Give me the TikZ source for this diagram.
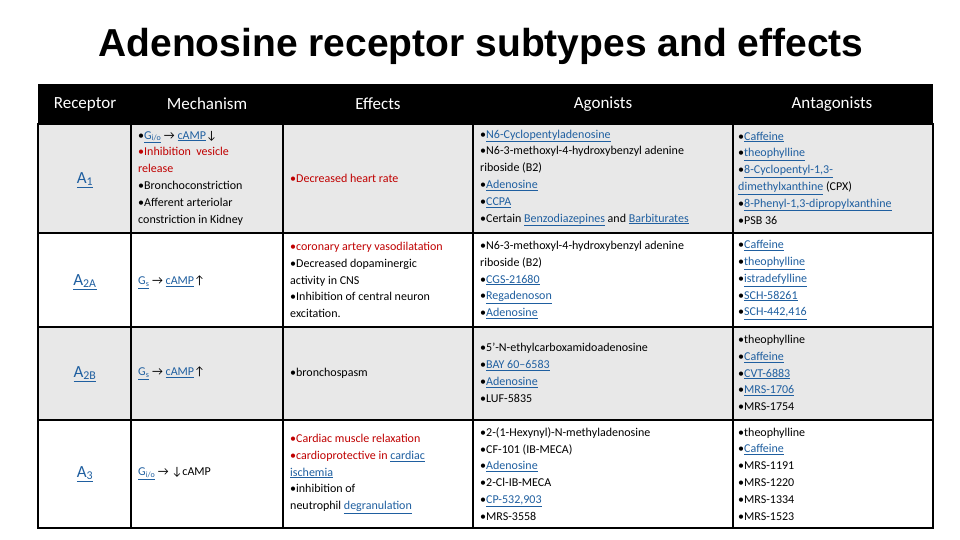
\documentclass[tikz,border=0pt]{standalone}
\usepackage{fontspec}
\setmainfont{Carlito}
\newfontfamily\titlefont{Liberation Sans}
\definecolor{lk}{HTML}{1F5FA0}
\definecolor{rd}{HTML}{C00000}
\definecolor{gr}{HTML}{E8E8E8}
\newcommand{\lnk}[1]{\textcolor{lk}{\underline{#1}}}
\newcommand{\rt}[1]{\textcolor{rd}{#1}}
\begin{document}
\begin{tikzpicture}[x=1pt,y=-1pt,
  cell/.style={anchor=west,align=left,inner sep=0pt,font=\fontsize{12}{16.8}\selectfont},
  rc/.style={anchor=center,inner sep=0pt,font=\fontsize{17}{20}\selectfont},
  hd/.style={font=\fontsize{17}{19}\selectfont,text=white}]
\useasboundingbox (0,0) rectangle (960,540);
\fill[white] (0,0) rectangle (960,540);
\node[font=\titlefont\bfseries\fontsize{39}{44}\selectfont] (title) at (481,46) {Adenosine receptor subtypes and effects};
\fill[black] (38,84) rectangle (933,124);
\fill[gr] (38,124) rectangle (933,233);
\fill[gr] (38,327) rectangle (933,420);
\node[hd] (h1) at (85,104) {Receptor};
\node[hd] (h2) at (207,104) {Mechanism};
\node[hd] (h3) at (378,104) {Effects};
\node[hd] (h4) at (603,104) {Agonists};
\node[hd] (h5) at (832,104) {Antagonists};
\draw[line width=2pt] (38,124) rectangle (933,528);
\foreach \y in {233,327,420} \draw[line width=1.5pt] (38,\y) -- (933,\y);
\foreach \x in {131,283,473,733} \draw[line width=1.5pt] (\x,124) -- (\x,528);
% row 1
\node[rc] (r1) at (85,180) {\lnk{A\textsubscript{1}}};
\node[cell] (m1) at (138,178) {•\lnk{G\textsubscript{i/o}} → \lnk{cAMP}↓\\\rt{•Inhibition\ \ vesicle}\\\rt{release}\\•Bronchoconstriction\\•Afferent arteriolar\\constriction in Kidney};
\node[cell] (e1) at (290,178) {\rt{•Decreased heart rate}};
\node[cell] (a1) at (480,178) {•\lnk{N6-Cyclopentyladenosine}\\•N6-3-methoxyl-4-hydroxybenzyl adenine\\riboside (B2)\\•\lnk{Adenosine}\\•\lnk{CCPA}\\•Certain \lnk{Benzodiazepines} and \lnk{Barbiturates}};
\node[cell] (n1) at (738,178) {•\lnk{Caffeine}\\•\lnk{theophylline}\\•\lnk{8-Cyclopentyl-1,3-}\\\lnk{dimethylxanthine} (CPX)\\•\lnk{8-Phenyl-1,3-dipropylxanthine}\\•PSB 36};
% row 2
\node[rc] (r2) at (85,282) {\lnk{A\textsubscript{2A}}};
\node[cell] (m2) at (138,282) {\lnk{G\textsubscript{s}} → \lnk{cAMP}↑};
\node[cell] (e2) at (290,280) {\rt{•coronary artery vasodilatation}\\•Decreased dopaminergic\\activity in CNS\\•Inhibition of central neuron\\excitation.};
\node[cell] (a2) at (480,280) {•N6-3-methoxyl-4-hydroxybenzyl adenine\\riboside (B2)\\•\lnk{CGS-21680}\\•\lnk{Regadenoson}\\•\lnk{Adenosine}};
\node[cell] (n2) at (738,280) {•\lnk{Caffeine}\\•\lnk{theophylline}\\•\lnk{istradefylline}\\•\lnk{SCH-58261}\\•\lnk{SCH-442,416}};
% row 3
\node[rc] (r3) at (85,374) {\lnk{A\textsubscript{2B}}};
\node[cell] (m3) at (138,373) {\lnk{G\textsubscript{s}} → \lnk{cAMP}↑};
\node[cell] (e3) at (290,373) {•bronchospasm};
\node[cell] (a3) at (480,373) {•5'-N-ethylcarboxamidoadenosine\\•\lnk{BAY 60–6583}\\•\lnk{Adenosine}\\•LUF-5835};
\node[cell] (n3) at (738,373) {•theophylline\\•\lnk{Caffeine}\\•\lnk{CVT-6883}\\•\lnk{MRS-1706}\\•MRS-1754};
% row 4
\node[rc] (r4) at (85,474) {\lnk{A\textsubscript{3}}};
\node[cell] (m4) at (138,474) {\lnk{G\textsubscript{i/o}} → ↓cAMP};
\node[cell] (e4) at (290,474) {\rt{•Cardiac muscle relaxation}\\\rt{•cardioprotective in} \lnk{cardiac}\\\lnk{ischemia}\\•inhibition of\\neutrophil \lnk{degranulation}};
\node[cell] (a4) at (480,474) {•2-(1-Hexynyl)-N-methyladenosine\\•CF-101 (IB-MECA)\\•\lnk{Adenosine}\\•2-Cl-IB-MECA\\•\lnk{CP-532,903}\\•MRS-3558};
\node[cell] (n4) at (738,474) {•theophylline\\•\lnk{Caffeine}\\•MRS-1191\\•MRS-1220\\•MRS-1334\\•MRS-1523};
\end{tikzpicture}
\end{document}
